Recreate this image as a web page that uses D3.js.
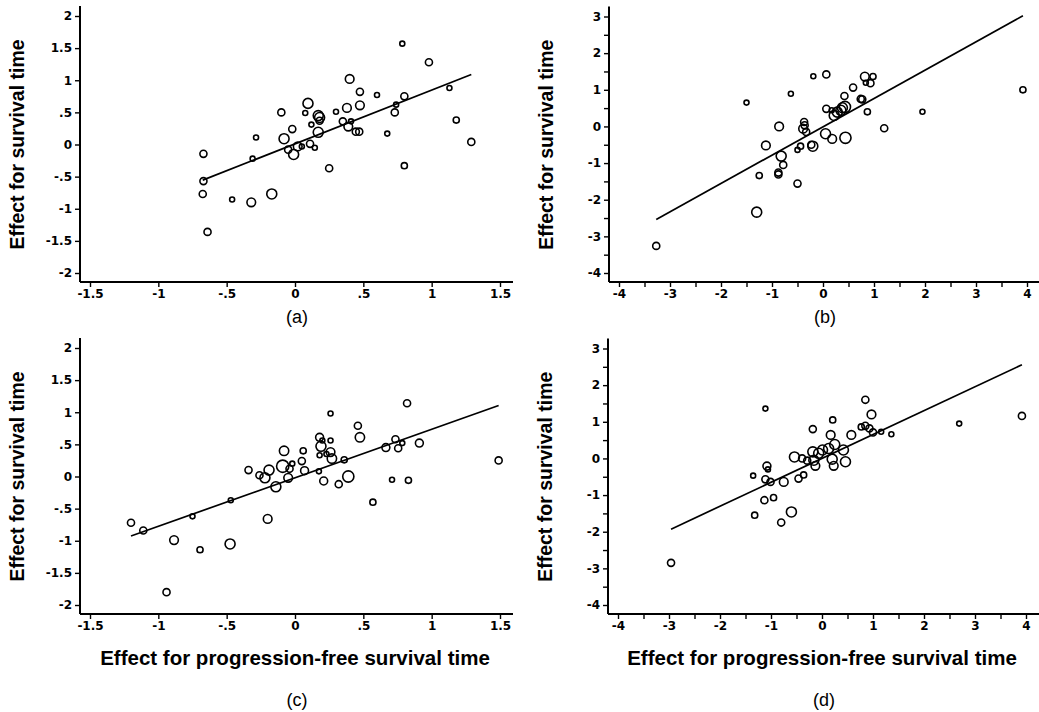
<!DOCTYPE html>
<html>
<head>
<meta charset="utf-8">
<script src="https://cdn.jsdelivr.net/npm/d3@7"></script>
<style>
body { margin: 0; background: #fff; }
svg { display: block; }
.tick text { font-family: "DejaVu Sans", sans-serif; font-weight: bold; font-size: 12px; fill: #000; }
.tick line { stroke: #000; stroke-width: 1.4; }
</style>
</head>
<body>
<svg id="chart" width="1039" height="712"></svg>
<script>
// [x effect pfs, y effect survival, weight]
var panelA = [
  [-0.67,-0.145,2],[-0.67,-0.57,2],[-0.675,-0.77,2],[-0.64,-1.36,2],[-0.46,-0.855,1],
  [-0.32,-0.90,3],[-0.31,-0.22,1],[-0.285,0.11,1],[-0.17,-0.77,4],[-0.10,0.50,2],
  [-0.08,0.09,4],[-0.02,0.24,2],[-0.05,-0.08,2],[-0.01,-0.155,4],[0.02,-0.03,3],
  [0.05,-0.03,1],[0.095,0.64,4],[0.075,0.49,1],[0.11,0.01,2],[0.145,-0.05,1],
  [0.12,0.31,1],[0.17,0.45,4],[0.18,0.42,4],[0.18,0.37,2],[0.17,0.19,4],
  [0.25,-0.37,2],[0.30,0.51,1],[0.38,0.57,3],[0.40,1.02,3],[0.35,0.36,2],
  [0.39,0.28,3],[0.41,0.36,1],[0.445,0.20,2],[0.47,0.20,2],[0.475,0.82,2],
  [0.475,0.61,3],[0.60,0.77,1],[0.675,0.17,1],[0.73,0.50,2],[0.74,0.62,1],
  [0.785,1.57,1],[0.80,0.75,2],[0.80,-0.33,1.5],[0.98,1.28,2],[1.13,0.88,1],
  [1.18,0.38,1.5],[1.29,0.04,2]
];
var panelB = [
  [-3.27,-3.26,2],[-1.30,-2.34,4],[-1.25,-1.34,1.5],[-1.12,-0.52,3],[-1.50,0.65,1],
  [-0.86,0.0,3],[-0.82,-0.81,4],[-0.78,-1.05,2],[-0.875,-1.26,2],[-0.875,-1.31,2],
  [-0.63,0.89,1],[-0.50,-1.56,2],[-0.50,-0.64,1],[-0.44,-0.54,1.5],[-0.37,0.12,2],
  [-0.36,0.03,2],[-0.39,-0.06,3],[-0.33,-0.15,2],[-0.23,-0.50,2],[-0.20,-0.54,4],
  [-0.19,1.37,1],[0.065,1.42,2],[0.05,-0.20,4],[0.18,-0.34,3],[0.065,0.48,2],
  [0.17,0.44,1],[0.22,0.30,4],[0.28,0.39,4],[0.35,0.44,4],[0.38,0.51,4],
  [0.43,0.53,5],[0.44,-0.31,5],[0.42,0.83,2],[0.59,1.06,2],[0.74,0.75,2],
  [0.77,0.74,2],[0.82,1.36,3],[0.84,1.19,1],[0.93,1.18,2],[0.98,1.36,1.5],
  [0.87,0.40,1.5],[1.20,-0.05,2],[1.95,0.40,1],[3.92,1.00,1.5]
];
var panelC = [
  [-1.20,-0.72,2],[-1.11,-0.84,2],[-0.885,-0.99,3],[-0.94,-1.80,2],[-0.75,-0.62,1],
  [-0.695,-1.14,1.5],[-0.47,-0.37,1],[-0.475,-1.05,4],[-0.34,0.10,2],[-0.26,0.02,2],
  [-0.22,-0.02,4],[-0.19,0.10,4],[-0.20,-0.66,3],[-0.14,-0.16,4],[-0.09,0.16,6],
  [-0.08,0.40,3.5],[-0.05,-0.02,3],[-0.04,0.12,2],[-0.02,0.20,1],[0.05,0.24,2],
  [0.06,0.40,1.5],[0.07,0.09,2.5],[0.175,0.08,1],[0.18,0.61,2.5],[0.19,0.47,4],
  [0.20,0.56,1],[0.18,0.33,1],[0.21,-0.07,2.5],[0.23,0.35,1],[0.26,0.38,3],
  [0.26,0.56,1],[0.26,0.98,1],[0.27,0.28,3.5],[0.32,-0.12,2],[0.36,0.26,1.5],
  [0.39,0.0,5],[0.46,0.79,2],[0.475,0.61,3.5],[0.57,-0.40,1.5],[0.665,0.45,2.5],
  [0.71,-0.05,1],[0.735,0.58,2],[0.755,0.44,2],[0.785,0.52,1],[0.82,1.14,2],
  [0.83,-0.06,1.5],[0.91,0.52,2.5],[1.49,0.25,2]
];
var panelD = [
  [-2.96,-2.85,2],[-1.11,1.36,1],[-1.35,-0.47,1],[-1.08,-0.21,2.5],[-1.06,-0.30,1],
  [-1.11,-0.57,2],[-1.01,-0.64,2],[-1.13,-1.14,2],[-0.95,-1.07,1.5],[-1.32,-1.55,1.5],
  [-0.75,-0.64,3],[-0.80,-1.75,2],[-0.60,-1.46,4],[-0.54,0.04,4],[-0.46,-0.55,2],
  [-0.36,-0.45,1.5],[-0.39,0.0,2],[-0.29,-0.06,2],[-0.18,0.80,2],[-0.18,0.18,4],
  [-0.16,-0.05,4],[-0.13,-0.20,3],[-0.065,0.14,4],[0.01,0.23,4],[0.13,0.27,4],
  [0.17,0.64,3],[0.21,1.05,1.5],[0.25,0.38,4],[0.20,-0.02,4],[0.23,-0.20,3],
  [0.42,0.23,4],[0.46,-0.09,4],[0.575,0.64,3],[0.77,0.86,1.5],[0.85,0.89,2],
  [0.85,1.60,2],[0.93,0.82,2],[0.97,1.20,3],[1.0,0.71,2],[1.16,0.73,1],
  [1.36,0.66,1],[2.69,0.95,1],[3.92,1.16,2]
];

// fitted lines [intercept, slope]
var fitA = [0.01, 0.836];
var fitB = [-0.01, 0.773];
var fitC = [-0.02, 0.755];
var fitD = [0.0, 0.652];

var ticksSmall = [-1.5, -1, -0.5, 0, 0.5, 1, 1.5];
var ticksSmallY = [-2, -1.5, -1, -0.5, 0, 0.5, 1, 1.5, 2];
var ticksBigX = [-4, -3, -2, -1, 0, 1, 2, 3, 4];
var ticksBigY = [-4, -3, -2, -1, 0, 1, 2, 3];
var minorBigX = [-3.5, -2.5, -1.5, -0.5, 0.5, 1.5, 2.5, 3.5];
var minorBigY = [-3.5, -2.5, -1.5, -0.5, 0.5, 1.5, 2.5];

var yTitle = "Effect for survival time";
var xTitle = "Effect for progression-free survival time";

var svg = d3.select("#chart");
var rScale = d3.scaleSqrt().domain([0, 1]).range([0, 2.5]);

function fmt(d) {
	return String(d).replace("0.", ".");
}

function drawPanel(p) {
	var x = d3.scaleLinear().domain(p.xDomain).range(p.xRange);
	var y = d3.scaleLinear().domain(p.yDomain).range(p.yRange);
	var g = svg.append("g");

	var xAxis = d3.axisBottom(x).tickValues(p.xTicks).tickSize(5).tickPadding(2).tickFormat(fmt);
	var yAxis = d3.axisLeft(y).tickValues(p.yTicks).tickSize(5).tickPadding(3).tickFormat(fmt);

	g.append("g")
	.attr("transform", "translate(0," + p.axisY + ")")
	.call(xAxis)
	.call(function(a) { a.select(".domain").remove(); });

	g.append("g")
	.attr("transform", "translate(" + p.axisX + ",0)")
	.call(yAxis)
	.call(function(a) { a.select(".domain").remove(); });

	if (p.minorX) {
		g.append("g")
		.attr("transform", "translate(0," + p.axisY + ")")
		.call(d3.axisBottom(x).tickValues(p.minorX).tickSize(5).tickFormat(""))
		.call(function(a) { a.select(".domain").remove(); });
		g.append("g")
		.attr("transform", "translate(" + p.axisX + ",0)")
		.call(d3.axisLeft(y).tickValues(p.minorY).tickSize(5).tickFormat(""))
		.call(function(a) { a.select(".domain").remove(); });
	}

	// axis lines (stata style, offset from the data range)
	g.append("line")
	.attr("x1", p.axisX).attr("x2", p.axisX)
	.attr("y1", p.yRange[1] - 10).attr("y2", p.axisY)
	.attr("stroke", "#000").attr("stroke-width", 2);
	g.append("line")
	.attr("x1", p.axisX).attr("x2", p.xRange[1] + 13)
	.attr("y1", p.axisY).attr("y2", p.axisY)
	.attr("stroke", "#000").attr("stroke-width", 2);

	// regression line over the data range
	var ext = d3.extent(p.data, function(d) { return d[0]; });
	g.append("line")
	.attr("x1", x(ext[0])).attr("y1", y(p.fit[0] + p.fit[1] * ext[0]))
	.attr("x2", x(ext[1])).attr("y2", y(p.fit[0] + p.fit[1] * ext[1]))
	.attr("stroke", "#000").attr("stroke-width", 1.7);

	g.append("g")
	.selectAll("circle")
	.data(p.data)
	.enter()
	.append("circle")
	.attr("cx", function(d) { return x(d[0]); })
	.attr("cy", function(d) { return y(d[1]); })
	.attr("r", function(d) { return rScale(d[2]); })
	.attr("fill", "none")
	.attr("stroke", "#000")
	.attr("stroke-width", 1.6);

	g.append("text")
	.attr("transform", "translate(" + (p.axisX - 56) + "," + ((p.yRange[0] + p.yRange[1]) / 2) + ") rotate(-90)")
	.attr("text-anchor", "middle")
	.style("font-family", "'Liberation Sans', Arial, sans-serif")
	.style("font-weight", "bold")
	.style("font-size", "19.5px")
	.text(yTitle);

	var cx = (p.xRange[0] + p.xRange[1]) / 2;
	if (p.showXTitle) {
		g.append("text")
		.attr("x", cx).attr("y", p.axisY + 51)
		.attr("text-anchor", "middle")
		.style("font-family", "'Liberation Sans', Arial, sans-serif")
		.style("font-weight", "bold")
		.style("font-size", "20.5px")
		.text(xTitle);
	}

	g.append("text")
	.attr("x", cx + 2).attr("y", p.axisY + p.tagDy)
	.attr("text-anchor", "middle")
	.style("font-family", "'Liberation Sans', Arial, sans-serif")
	.style("font-size", "18px")
	.text(p.tag);
}

drawPanel({ data: panelA, fit: fitA, xDomain: [-1.5, 1.5], yDomain: [-2, 2],
	xRange: [90, 500], yRange: [273, 16], axisX: 80, axisY: 282,
	xTicks: ticksSmall, yTicks: ticksSmallY, tag: "(a)", tagDy: 41, showXTitle: false });
drawPanel({ data: panelB, fit: fitB, xDomain: [-4, 4], yDomain: [-4, 3],
	xRange: [619, 1027], yRange: [273, 16.5], axisX: 609, axisY: 282,
	xTicks: ticksBigX, yTicks: ticksBigY, minorX: minorBigX, minorY: minorBigY,
	tag: "(b)", tagDy: 41, showXTitle: false });
drawPanel({ data: panelC, fit: fitC, xDomain: [-1.5, 1.5], yDomain: [-2, 2],
	xRange: [90, 500], yRange: [605, 348], axisX: 80, axisY: 614,
	xTicks: ticksSmall, yTicks: ticksSmallY, tag: "(c)", tagDy: 92, showXTitle: true });
drawPanel({ data: panelD, fit: fitD, xDomain: [-4, 4], yDomain: [-4, 3],
	xRange: [618, 1026], yRange: [605, 348.5], axisX: 608, axisY: 614,
	xTicks: ticksBigX, yTicks: ticksBigY, minorX: minorBigX, minorY: minorBigY,
	tag: "(d)", tagDy: 92, showXTitle: true });
</script>
</body>
</html>
